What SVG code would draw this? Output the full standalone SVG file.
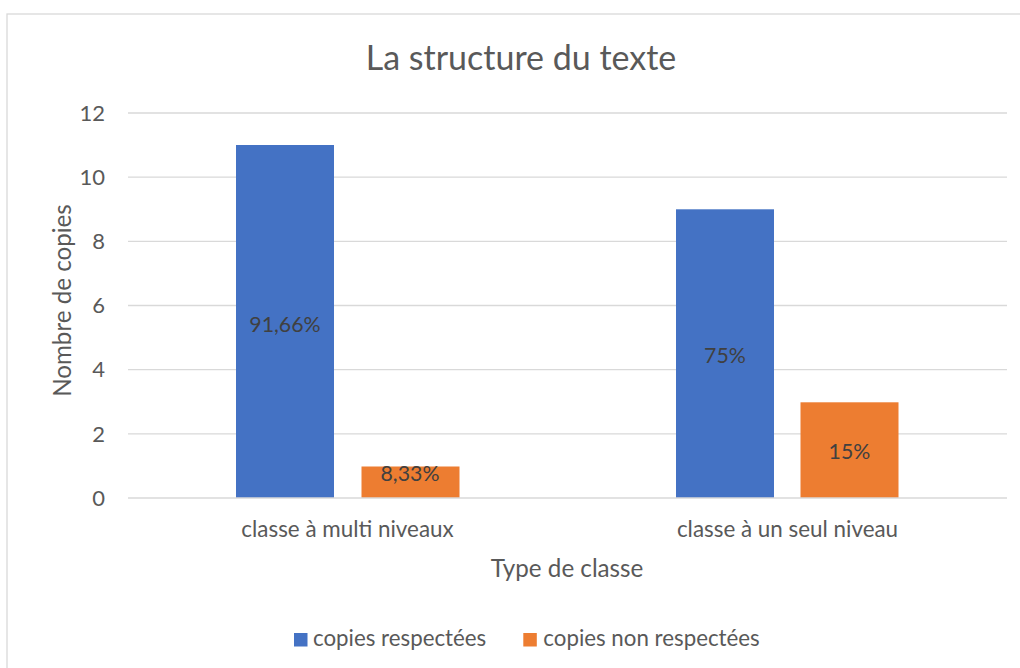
<svg xmlns="http://www.w3.org/2000/svg" width="1020" height="668" viewBox="0 0 1020 668">
  <style>
    text { font-family: Lato, "Open Sans", "Liberation Sans", sans-serif; }
    .grid { stroke: #d9d9d9; stroke-width: 1.3; }
    .tick { font-size: 22px; fill: #595959; text-anchor: end; }
    .cat { font-size: 22.4px; fill: #595959; text-anchor: middle; }
    .axt { font-size: 24.2px; fill: #595959; text-anchor: middle; }
    .val { font-size: 21.3px; fill: #404040; text-anchor: middle; }
    .leg { font-size: 22.3px; fill: #595959; }
    .blue { fill: #4472c4; }
    .orange { fill: #ed7d31; }
  </style>
  <rect x="0" y="0" width="1020" height="668" fill="#ffffff"/>
  <rect x="7" y="14" width="1030" height="680" fill="#ffffff" stroke="#d9d9d9" stroke-width="1.3"/>

  <text x="521" y="70" font-size="34" fill="#595959" text-anchor="middle">La structure du texte</text>

  <g id="gridlines">
    <line class="grid" x1="128" y1="113" x2="1007" y2="113"/>
    <line class="grid" x1="128" y1="177.2" x2="1007" y2="177.2"/>
    <line class="grid" x1="128" y1="241.3" x2="1007" y2="241.3"/>
    <line class="grid" x1="128" y1="305.5" x2="1007" y2="305.5"/>
    <line class="grid" x1="128" y1="369.7" x2="1007" y2="369.7"/>
    <line class="grid" x1="128" y1="433.8" x2="1007" y2="433.8"/>
  </g>

  <g id="y-axis">
    <text class="tick" x="105" y="120.7">12</text>
    <text class="tick" x="105" y="184.9">10</text>
    <text class="tick" x="105" y="249">8</text>
    <text class="tick" x="105" y="313.2">6</text>
    <text class="tick" x="105" y="377.4">4</text>
    <text class="tick" x="105" y="441.5">2</text>
    <text class="tick" x="105" y="505.7">0</text>
    <text class="axt" transform="translate(71 300.5) rotate(-90)">Nombre de copies</text>
  </g>

  <g id="bar-multi-respectees">
    <rect class="blue" x="236" y="145" width="98" height="353"/>
    <text class="val" x="285" y="332">91,66%</text>
  </g>
  <g id="bar-multi-non">
    <rect class="orange" x="361.5" y="466.5" width="98" height="31.5"/>
    <text class="val" x="410" y="481">8,33%</text>
  </g>
  <g id="bar-seul-respectees">
    <rect class="blue" x="676" y="209.3" width="98" height="288.7"/>
    <text class="val" x="725" y="363">75%</text>
  </g>
  <g id="bar-seul-non">
    <rect class="orange" x="800.5" y="402.3" width="98" height="95.7"/>
    <text class="val" x="849.5" y="459">15%</text>
  </g>

  <line class="grid" x1="128" y1="498" x2="1007" y2="498"/>

  <g id="x-axis">
    <text class="cat" x="347.5" y="537">classe à multi niveaux</text>
    <text class="cat" x="787.5" y="537">classe à un seul niveau</text>
    <text class="axt" x="567" y="577">Type de classe</text>
  </g>

  <g id="legend">
    <rect class="blue" x="294" y="633" width="13.5" height="13.5"/>
    <text class="leg" x="313" y="646">copies respectées</text>
    <rect class="orange" x="523.3" y="633" width="13.5" height="13.5"/>
    <text class="leg" x="543.3" y="646">copies non respectées</text>
  </g>
</svg>
